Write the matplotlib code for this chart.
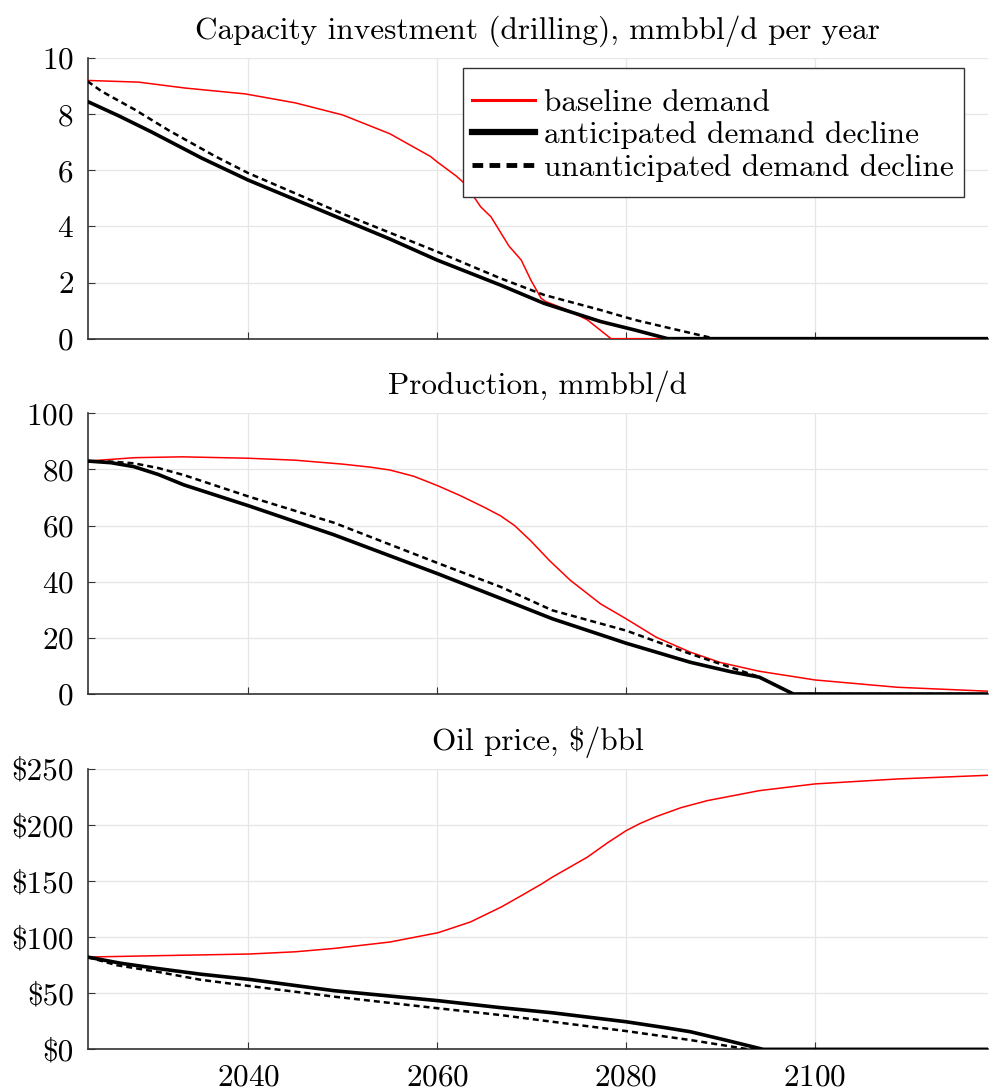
import matplotlib
matplotlib.use("Agg")
import matplotlib.pyplot as plt
from matplotlib.lines import Line2D
from matplotlib.patches import Rectangle
from matplotlib.ticker import FuncFormatter

plt.rcParams["font.family"] = "cmr10"
plt.rcParams["axes.formatter.use_mathtext"] = True
plt.rcParams["font.size"] = 22.5

# capacity investment (drilling), mmbbl/d per year
cap_years_base = [2023, 2028.4, 2033.3, 2039.7, 2045, 2050, 2055, 2059.3, 2060, 2062,
                  2063, 2064.6, 2065.7, 2067.6, 2068.9, 2069.9, 2071.0, 2071.5, 2073.8,
                  2075.9, 2078.4, 2118.3]
cap_base = [9.2, 9.14, 8.93, 8.72, 8.4, 7.97, 7.3, 6.49, 6.3, 5.8,
            5.5, 4.7, 4.34, 3.3, 2.8, 2.1, 1.44, 1.32, 1.02,
            0.67, 0.0, 0.0]
cap_years_anti = [2023, 2026.3, 2029.8, 2035.1, 2040, 2045, 2050, 2055, 2060, 2066.7,
                  2071.3, 2077.3, 2080.9, 2084.4, 2118.3]
cap_anti = [8.45, 7.94, 7.36, 6.43, 5.65, 4.95, 4.25, 3.55, 2.8, 1.91,
            1.26, 0.61, 0.31, 0.0, 0.0]
cap_years_unant = [2023, 2024.5, 2028, 2031.6, 2036.5, 2040, 2050, 2060, 2066.7, 2071.3,
                   2077.3, 2080.9, 2086.2, 2089.4, 2118.3]
cap_unant = [9.17, 8.81, 8.16, 7.42, 6.5, 5.9, 4.45, 3.1, 2.15, 1.56,
             1.02, 0.67, 0.25, 0.0, 0.0]

# production, mmbbl/d
prod_years_base = [2023, 2028, 2033, 2040, 2045, 2050, 2053, 2055, 2057.5, 2060, 2062.5,
                   2065, 2066.7, 2068.2, 2069.9, 2071.9, 2074.1, 2077.3, 2079.9, 2083.2,
                   2086.8, 2090, 2094.1, 2100, 2108.7, 2118.3]
prod_base = [83.0, 84.2, 84.5, 84.0, 83.3, 81.9, 80.8, 79.8, 77.6, 74.3, 70.6,
             66.5, 63.5, 60.0, 54.6, 47.5, 40.5, 32.1, 27.0, 20.2,
             14.9, 11.2, 8.1, 5.0, 2.4, 1.0]
prod_years_anti = [2023, 2025.5, 2027.9, 2030.5, 2033.2, 2040.1, 2049.1, 2060.1, 2066.7,
                   2072.2, 2080, 2086.8, 2091, 2094.1, 2097.7, 2118.3]
prod_anti = [83.0, 82.4, 81.0, 78.2, 74.5, 67.0, 56.7, 42.8, 34.1,
             26.8, 18.1, 11.3, 8.0, 6.0, 0.0, 0.0]
prod_years_unant = [2023, 2025.5, 2027.9, 2030.5, 2033.2, 2040.1, 2049.1, 2060.1, 2066.7,
                    2072.2, 2080, 2086.8, 2093.7, 2094.1, 2097.7, 2118.3]
prod_unant = [83.0, 82.8, 82.2, 80.5, 78.0, 70.3, 61.0, 46.6, 38.2,
              29.8, 22.6, 14.3, 6.5, 6.0, 0.0, 0.0]

# oil price, $/bbl
price_years_base = [2023, 2030.3, 2040.1, 2045, 2049.1, 2055, 2060.1, 2063.5, 2066.8,
                    2069, 2071.1, 2072.2, 2075.9, 2078, 2080, 2081.5, 2083.2, 2085.8,
                    2088.6, 2094.1, 2100, 2108.7, 2118.3]
price_base = [82.3, 83.5, 85.0, 87.0, 90.0, 95.7, 104.0, 113.5, 127.0,
              137.5, 147.7, 153.6, 171.4, 184.0, 195.0, 201.5, 207.6, 215.5,
              221.8, 230.7, 236.7, 241.1, 244.4]
price_years_anti = [2023, 2026.5, 2030.3, 2035, 2040.1, 2049.1, 2060.1, 2066.7, 2072.2,
                    2080, 2084, 2086.8, 2090.5, 2094.5, 2118.3]
price_anti = [82.3, 76.8, 72.2, 67.0, 62.4, 52.3, 43.4, 37.2, 32.6,
              24.6, 19.5, 15.7, 8.3, 0.0, 0.0]
price_years_unant = [2023, 2026.1, 2030.3, 2035, 2040.1, 2049.1, 2060.1, 2066.7, 2072.2,
                     2080, 2086.8, 2093, 2118.3]
price_unant = [82.3, 75.0, 69.3, 62.0, 56.5, 47.0, 36.6, 30.6, 24.6,
               16.3, 8.3, 0.0, 0.0]

titles = ["Capacity investment (drilling), mmbbl/d per year",
          "Production, mmbbl/d",
          "Oil price, $/bbl"]
x_ticks = [2040, 2060, 2080, 2100]

panels = [
    (cap_years_base, cap_base, cap_years_anti, cap_anti, cap_years_unant, cap_unant,
     (0, 10), [0, 2, 4, 6, 8, 10]),
    (prod_years_base, prod_base, prod_years_anti, prod_anti, prod_years_unant, prod_unant,
     (0, 100), [0, 20, 40, 60, 80, 100]),
    (price_years_base, price_base, price_years_anti, price_anti, price_years_unant,
     price_unant, (0, 250), [0, 50, 100, 150, 200, 250]),
]

fig = plt.figure(figsize=(9.89, 10.90), dpi=100)
boxes = [[0.0885, 0.6893, 0.9105, 0.2575],
         [0.0885, 0.3633, 0.9105, 0.2575],
         [0.0885, 0.0373, 0.9105, 0.2572]]

dotted = (0, (2.4, 1.6))
axes = []
for i, (box, p) in enumerate(zip(boxes, panels)):
    xb, yb, xa, ya, xu, yu, ylim, yticks = p
    ax = fig.add_axes(box)
    ax.plot(xb, yb, color="red", lw=1.1, zorder=3)
    ax.plot(xa, ya, color="black", lw=2.6, zorder=4)
    ax.plot(xu, yu, color="black", lw=1.8, linestyle=dotted, zorder=5)
    ax.set_xlim(2023, 2118.3)
    ax.set_ylim(*ylim)
    ax.set_yticks(yticks)
    ax.set_xticks(x_ticks)
    ax.grid(True, color="#e6e6e6", lw=0.9)
    ax.set_axisbelow(True)
    for side in ("top", "right"):
        ax.spines[side].set_visible(False)
    for side in ("left", "bottom"):
        ax.spines[side].set_color("#333333")
        ax.spines[side].set_linewidth(1.2)
    ax.tick_params(direction="in", length=5, width=0.8, color="#333333",
                   labelsize=22.5, pad=10)
    ax.set_title(titles[i], fontsize=22.5, pad=14)
    if i < 2:
        ax.tick_params(labelbottom=False)
    axes.append(ax)

axes[2].yaxis.set_major_formatter(FuncFormatter(lambda v, pos: "\\$%d" % v))

# legend frame drawn separately so the vertical padding can exceed the horizontal one
frame = Rectangle((0.4167, 0.5048), 0.5566, 0.4596, transform=axes[0].transAxes,
                  facecolor="white", edgecolor="#333333", lw=1.0, zorder=6)
axes[0].add_patch(frame)

handles = [
    Line2D([], [], color="red", lw=2.2),
    Line2D([], [], color="black", lw=4.5),
    Line2D([], [], color="black", lw=3.5, linestyle=(0, (2.2, 1.3))),
]
labels = ["baseline demand", "anticipated demand decline", "unanticipated demand decline"]
leg = axes[0].legend(handles, labels, loc="center", bbox_to_anchor=(0.6945, 0.724),
                     borderaxespad=0, fontsize=22.5, frameon=False,
                     handlelength=2.0, handletextpad=0.28, labelspacing=0.14,
                     borderpad=0.2)
leg.set_zorder(7)

fig.savefig("out.png", dpi=100)
